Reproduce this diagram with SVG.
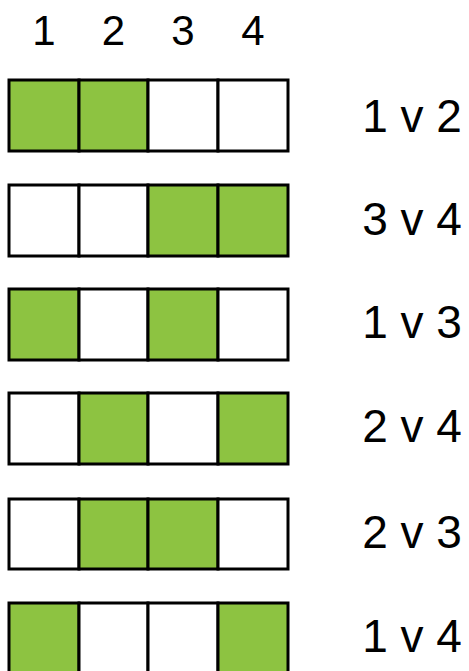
<svg xmlns="http://www.w3.org/2000/svg" width="469" height="671" viewBox="0 0 469 671">
<style>
.c{stroke:#000;stroke-width:3}
.g{fill:#8DC341}
.w{fill:#fff}
text{font-family:"Liberation Sans",Arial,sans-serif;fill:#000;text-anchor:middle}
.h{font-size:42px}
.l{font-size:46px}
</style>
<rect width="469" height="671" fill="#fff"/>
<g id="header">
<text class="h" x="44" y="45">1</text>
<text class="h" x="113.5" y="45">2</text>
<text class="h" x="183" y="45">3</text>
<text class="h" x="253" y="45">4</text>
</g>
<g id="row1" transform="translate(0,80)">
<rect class="c g" x="9" y="0" width="70" height="71"/>
<rect class="c g" x="79" y="0" width="69" height="71"/>
<rect class="c w" x="148" y="0" width="70" height="71"/>
<rect class="c w" x="218" y="0" width="70" height="71"/>
<text class="l" x="412" y="52">1 v 2</text>
</g>
<g id="row2" transform="translate(0,185)">
<rect class="c w" x="9" y="0" width="70" height="71"/>
<rect class="c w" x="79" y="0" width="69" height="71"/>
<rect class="c g" x="148" y="0" width="70" height="71"/>
<rect class="c g" x="218" y="0" width="70" height="71"/>
<text class="l" x="412" y="50">3 v 4</text>
</g>
<g id="row3" transform="translate(0,289)">
<rect class="c g" x="9" y="0" width="70" height="71"/>
<rect class="c w" x="79" y="0" width="69" height="71"/>
<rect class="c g" x="148" y="0" width="70" height="71"/>
<rect class="c w" x="218" y="0" width="70" height="71"/>
<text class="l" x="412" y="49">1 v 3</text>
</g>
<g id="row4" transform="translate(0,393)">
<rect class="c w" x="9" y="0" width="70" height="71"/>
<rect class="c g" x="79" y="0" width="69" height="71"/>
<rect class="c w" x="148" y="0" width="70" height="71"/>
<rect class="c g" x="218" y="0" width="70" height="71"/>
<text class="l" x="412" y="49">2 v 4</text>
</g>
<g id="row5" transform="translate(0,499)">
<rect class="c w" x="9" y="0" width="70" height="70"/>
<rect class="c g" x="79" y="0" width="69" height="70"/>
<rect class="c g" x="148" y="0" width="70" height="70"/>
<rect class="c w" x="218" y="0" width="70" height="70"/>
<text class="l" x="412" y="49">2 v 3</text>
</g>
<g id="row6" transform="translate(0,603)">
<rect class="c g" x="9" y="0" width="70" height="71"/>
<rect class="c w" x="79" y="0" width="69" height="71"/>
<rect class="c w" x="148" y="0" width="70" height="71"/>
<rect class="c g" x="218" y="0" width="70" height="71"/>
<text class="l" x="412" y="49">1 v 4</text>
</g>
<g id="connectors"/>
</svg>
